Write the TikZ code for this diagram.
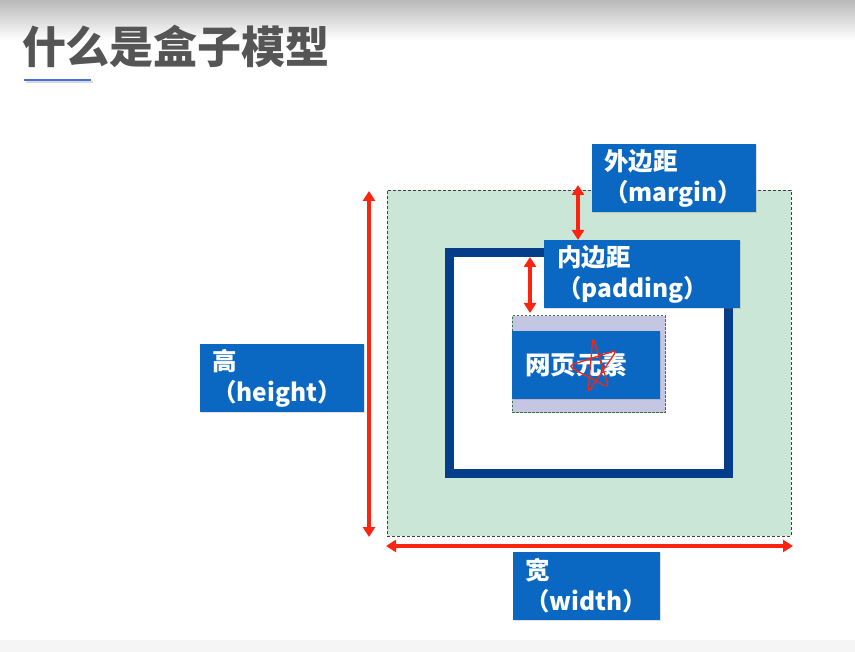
\documentclass[tikz,border=0pt]{standalone}
\usepackage{fontspec}
\newfontfamily\cjk{Noto Sans CJK SC}
\usetikzlibrary{arrows.meta,shadows}
\definecolor{titlegray}{RGB}{85,85,85}
\definecolor{accentblue}{RGB}{74,110,220}
\definecolor{marginfill}{RGB}{201,230,215}
\definecolor{borderblue}{RGB}{4,62,138}
\definecolor{contentfill}{RGB}{197,198,226}
\definecolor{labelblue}{RGB}{10,104,194}
\definecolor{arrowred}{RGB}{250,36,16}
\definecolor{dashgreen}{RGB}{60,110,70}
\tikzset{
  every node/.style={outer sep=0pt},
  label box/.style={fill=labelblue, draw=none, anchor=north west, inner xsep=12pt, inner ysep=0pt,
    align=left, text=white, font=\cjk\bfseries\fontsize{24.5}{31}\selectfont,
    drop shadow={opacity=0.25, shadow xshift=1.2pt, shadow yshift=-1.2pt}},
  dim arrow/.style={arrowred, line width=3.2pt,
    {Triangle[width=12pt,length=10pt]}-{Triangle[width=12pt,length=10pt]}},
}
\begin{document}
\begin{tikzpicture}[x=1pt,y=-1pt]
\useasboundingbox (0,0) rectangle (855,652);
% page header band and footer strip
\shade[top color=gray!55, bottom color=white] (0,0) rectangle (855,40);
\fill[white] (0,40) rectangle (855,640);
\fill[gray!8] (0,640) rectangle (855,652);

% title with accent bar
\node[anchor=west, inner sep=0pt, text=titlegray, font=\cjk\bfseries\fontsize{44}{44}\selectfont] (title) at (22,46) {什么是盒子模型};
\fill[gray!30] (26,81.5) rectangle (93,83.5);
\fill[accentblue] (24,79) rectangle (91,81.5);

% margin area
\node[draw=black!75, dashed, dash pattern=on 3pt off 2pt, line width=0.9pt, fill=marginfill,
  anchor=north west, minimum width=404pt, minimum height=346pt, inner sep=0pt] (margin) at (387,190) {};
% border ring
\node[draw=borderblue, line width=9pt, fill=white, anchor=north west,
  minimum width=279pt, minimum height=221pt, inner sep=0pt] (border) at (449.5,252.5) {};
% content area
\node[draw=dashgreen, dashed, dash pattern=on 2.5pt off 1.5pt, line width=1pt, fill=contentfill,
  anchor=north west, minimum width=153pt, minimum height=97pt, inner sep=0pt] (content) at (512,316) {};
\node[label box, minimum width=148pt, minimum height=68pt, text width=122pt,
  font=\cjk\bfseries\fontsize{25.5}{30}\selectfont, inner xsep=13pt] (element) at (512,331) {网页元素};

% labels
\node[label box, minimum width=164pt, minimum height=68pt, text width=140pt] (marginlab) at (592,144) {外边距\\（margin）};
\node[label box, minimum width=196pt, minimum height=68pt, text width=170pt, inner xsep=13pt] (paddinglab) at (544,240) {内边距\\（padding）};
\node[label box, minimum width=164pt, minimum height=68pt, text width=140pt] (heightlab) at (200,344) {高\\（height）};
\node[label box, minimum width=147pt, minimum height=68pt, text width=123pt] (widthlab) at (513,552) {宽\\（width）};

% dimension arrows
\coordinate (htop) at (369,191);
\coordinate (hbot) at (369,537);
\coordinate (wl) at (386,546);
\coordinate (wr) at (793,546);
\draw[dim arrow] (htop) -- (hbot);
\draw[dim arrow] (wl) -- (wr);
\draw[dim arrow] (578,185) -- (578,240);
\draw[dim arrow] (530,257) -- (530,313);

% pen scribble over the element label
\draw[arrowred, line width=1.3pt, rounded corners=5pt]
  (568,366) -- (617,350) -- (588,393) -- (593,337) -- (609,388) -- cycle;
\end{tikzpicture}
\end{document}
